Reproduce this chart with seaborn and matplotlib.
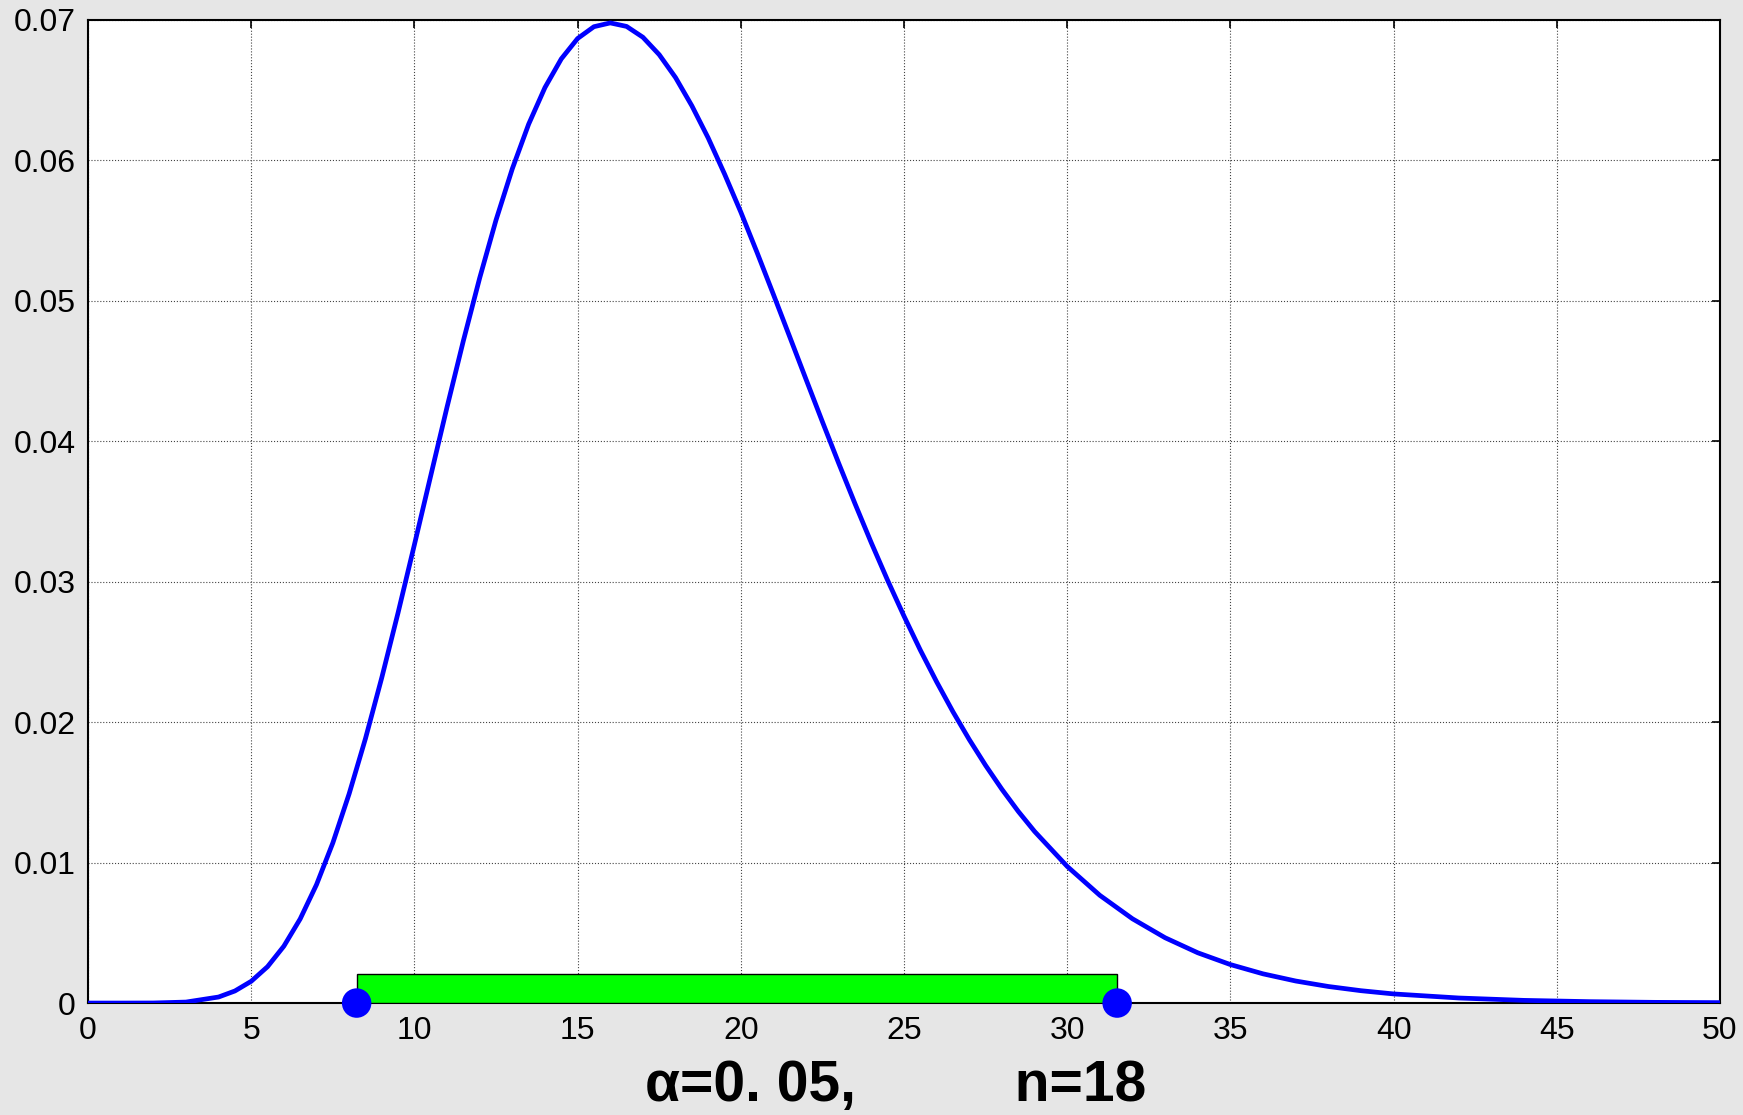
import matplotlib
matplotlib.use("Agg")
import matplotlib.pyplot as plt
import seaborn as sns
import pandas as pd

# chi-square density, n = 18
x_vals = [0, 1, 2, 3, 4, 4.5, 5, 5.5, 6, 6.5, 7, 7.5, 8, 8.5, 9, 9.5, 10, 10.5,
          11, 11.5, 12, 12.5, 13, 13.5, 14, 14.5, 15, 15.5, 16, 16.5, 17, 17.5,
          18, 18.5, 19, 19.5, 20, 20.5, 21, 21.5, 22, 22.5, 23, 23.5, 24, 24.5,
          25, 25.5, 26, 26.5, 27, 27.5, 28, 28.5, 29, 30, 31, 32, 33, 34, 35,
          36, 37, 38, 39, 40, 42, 44, 46, 48, 50]
pdf_vals = [0.0, 0.0, 0.000005, 0.00007, 0.00043, 0.00086, 0.00155, 0.00259,
            0.00405, 0.00599, 0.00843, 0.0114, 0.0149, 0.01883, 0.02317, 0.0278,
            0.03264, 0.03755, 0.04244, 0.04716, 0.05163, 0.05575, 0.05941,
            0.06258, 0.06519, 0.06723, 0.06868, 0.06952, 0.06979, 0.06954,
            0.06877, 0.06753, 0.0659, 0.06389, 0.0616, 0.05904, 0.05632, 0.05343,
            0.05045, 0.04743, 0.0444, 0.04139, 0.03843, 0.03555, 0.03276, 0.03009,
            0.02755, 0.02513, 0.02287, 0.02074, 0.01876, 0.01692, 0.01522, 0.01365,
            0.01222, 0.00973, 0.00767, 0.006, 0.00465, 0.00358, 0.00274, 0.00208,
            0.00157, 0.00118, 0.00088, 0.00065, 0.00036, 0.00019, 0.0001,
            0.00005, 0.00003]

# acceptance interval (critical values)
crit_x = [8.23, 31.53]
crit_y = [0.0, 0.0]
bar_height = 0.0021

x_ticks = [0, 5, 10, 15, 20, 25, 30, 35, 40, 45, 50]
y_ticks = [0, 0.01, 0.02, 0.03, 0.04, 0.05, 0.06, 0.07]
y_tick_labels = ['0', '0.01', '0.02', '0.03', '0.04', '0.05', '0.06', '0.07']

sns.set_style('white')
plt.rcParams['font.family'] = ['Liberation Sans', 'DejaVu Sans']

fig = plt.figure(figsize=(17.43, 11.15), dpi=100)
fig.patch.set_facecolor('#e6e6e6')
ax = fig.add_axes([0.0505, 0.1004, 0.9363, 0.8817])
ax.set_facecolor('white')

df = pd.DataFrame({'x': x_vals, 'pdf': pdf_vals})

ax.bar(crit_x[0], bar_height, width=crit_x[1] - crit_x[0], align='edge',
       color='#00ff00', edgecolor='black', linewidth=1, zorder=3)
sns.lineplot(data=df, x='x', y='pdf', ax=ax, color='blue', linewidth=3.4,
             zorder=4)
sns.scatterplot(x=crit_x, y=crit_y, ax=ax, color='blue', s=450,
                edgecolor='none', zorder=5, clip_on=False)

ax.set_xlim(0, 50)
ax.set_ylim(0, 0.07)
ax.set_xticks(x_ticks)
ax.set_yticks(y_ticks)
ax.set_yticklabels(y_tick_labels)
ax.tick_params(labelsize=23, direction='in', length=6, width=1.2,
               top=True, right=True, colors='black', pad=9)
ax.set_xlabel('')
ax.set_ylabel('')
ax.grid(True, color='#444444', linestyle=':', linewidth=0.8)
for sp in ax.spines.values():
    sp.set_color('black')
    sp.set_linewidth(1.5)

fig.text(0.37, 0.013, 'α=0. 05,          n=18', fontsize=41,
         fontweight='bold', ha='left', va='baseline', color='black')

fig.savefig('out.png', dpi=100, facecolor=fig.get_facecolor())
